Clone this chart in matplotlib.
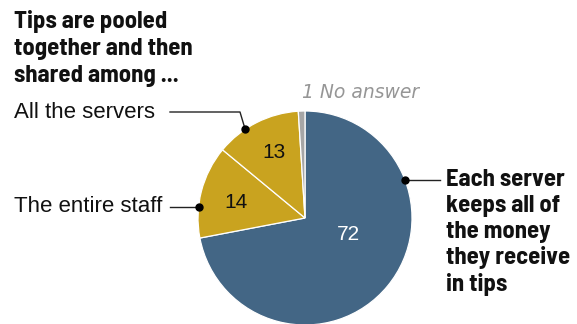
import numpy as np
import matplotlib
matplotlib.use("Agg")
import matplotlib.pyplot as plt

# shares of respondents
labels = ["Each server\nkeeps all of\nthe money\nthey receive\nin tips",
          "The entire staff", "All the servers", "No answer"]
values = [72, 14, 13, 1]
colors = ["#436685", "#c9a31f", "#c9a31f", "#a6a6a6"]

heading = "Tips are pooled\ntogether and then\nshared among ..."

bold = ["Barlow Semi Condensed", "Liberation Sans"]
plain = ["Liberation Sans"]

W, H = 577, 324
fig = plt.figure(figsize=(W / 100, H / 100), dpi=100)
ax = fig.add_axes([0, 0, 1, 1])

cx, cy, r = 305, H - 218, 107
ax.pie(values, colors=colors, startangle=90, counterclock=False,
       center=(cx, cy), radius=r, frame=True,
       wedgeprops=dict(edgecolor="white", linewidth=0.9))
ax.set_xlim(0, W)
ax.set_ylim(0, H)
ax.set_aspect("equal")
ax.axis("off")

def edge(angle):
    a = np.radians(angle)
    return cx + r * np.cos(a), cy + r * np.sin(a)

def bold_block(x, top, text, step):
    # one text per line so each baseline sits where it should
    for i, line in enumerate(text.split("\n")):
        ax.text(x, H - (top + i * step), line, fontsize=17.8, family=bold,
                weight="bold", color="#111111", ha="left", va="baseline")

# numbers inside the slices
ax.text(348, H - 234, str(values[0]), color="white", fontsize=15,
        family=plain, ha="center", va="center")
ax.text(236, H - 202, str(values[1]), color="#111111", fontsize=15,
        family=plain, ha="center", va="center")
ax.text(274, H - 152, str(values[2]), color="#111111", fontsize=15,
        family=plain, ha="center", va="center")
ax.text(302, H - 98.5, f"{values[3]} {labels[3]}", color="#969696",
        fontsize=13.5, family="DejaVu Sans", style="italic",
        ha="left", va="baseline")

# heading for the pooled-tips slices
bold_block(14, 28.3, heading, 26.7)

# leader lines and slice labels
x, y = edge(21)
ax.plot([x, 440], [y, y], color="#222222", lw=1)
ax.plot(x, y, "o", color="black", ms=5)
bold_block(446, 185.7, labels[0], 26.25)

x, y = edge(174)
ax.plot([170, x], [y, y], color="#222222", lw=1)
ax.plot(x, y, "o", color="black", ms=5)
ax.text(14, y, labels[1], fontsize=16, family=plain,
        color="#111111", ha="left", va="center")

x, y = edge(124)
ax.plot([170, 240, x], [H - 112, H - 112, y], color="#222222", lw=1)
ax.plot(x, y, "o", color="black", ms=5)
ax.text(14, H - 112, labels[2], fontsize=16, family=plain,
        color="#111111", ha="left", va="center")

fig.savefig("out.png", dpi=100)
